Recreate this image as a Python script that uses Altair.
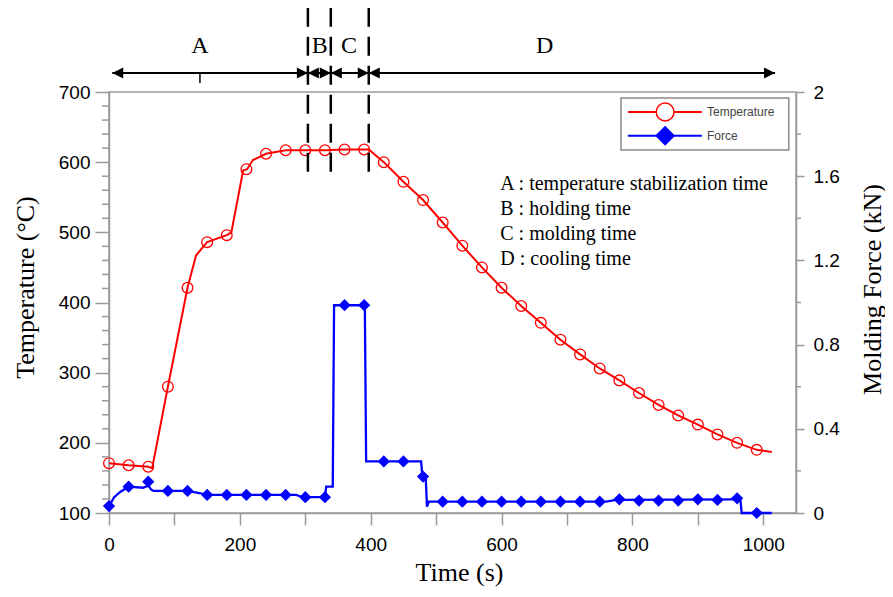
import altair as alt
import pandas as pd

# ---------------- data ----------------
# Temperature curve vertices (s, degC)
temp_line_t = [0, 30, 60, 66, 90, 120, 133, 150, 180, 187, 205, 211, 220, 240, 270, 300, 330, 360, 390, 397,
               420, 450, 480, 510, 540, 570, 600, 630, 660, 690, 720, 750, 780, 810, 840, 870, 900, 930, 960, 990, 1013]
temp_line_v = [171, 168, 166, 164, 280, 421, 467, 486, 496, 500, 588, 590, 603, 612, 617, 617, 617, 618, 618, 618,
               600, 572, 546, 514, 481, 450, 421, 395, 371, 347, 326, 306, 289, 271, 254, 239, 226, 212, 200, 190, 187]
# Temperature markers
temp_mark_t = [0, 30, 60, 90, 120, 150, 180, 210, 240, 270, 300, 330, 360, 390, 420, 450, 480, 510, 540, 570,
               600, 630, 660, 690, 720, 750, 780, 810, 840, 870, 900, 930, 960, 990]
temp_mark_v = [171, 168, 166, 280, 421, 486, 496, 590, 612, 617, 617, 617, 618, 618, 600, 572, 546, 514, 481, 450,
               421, 395, 371, 347, 326, 306, 289, 271, 254, 239, 226, 212, 200, 190]
# Force curve vertices (s, kN)
force_line_t = [0, 8, 17, 30, 52, 60, 65, 68, 120, 138, 150, 286, 296, 330, 332, 342, 344, 391, 393, 477,
                479, 484, 486, 489, 760, 775, 960, 965, 967, 1013]
force_line_v = [0.033, 0.075, 0.10, 0.125, 0.12, 0.13, 0.11, 0.105, 0.105, 0.095, 0.086, 0.086, 0.075, 0.075,
                0.125, 0.125, 0.987, 0.987, 0.245, 0.245, 0.173, 0.173, 0.03, 0.054, 0.054, 0.062, 0.065, 0.065,
                0.0, 0.0]
# Force markers
force_mark_t = [0, 30, 60, 90, 120, 150, 180, 210, 240, 270, 300, 330, 360, 390, 420, 450, 480, 510, 540, 570,
                600, 630, 660, 690, 720, 750, 780, 810, 840, 870, 900, 930, 960, 990]
force_mark_v = [0.033, 0.125, 0.149, 0.105, 0.105, 0.086, 0.086, 0.086, 0.086, 0.086, 0.075, 0.075, 0.987, 0.987,
                0.245, 0.245, 0.173, 0.054, 0.054, 0.054, 0.054, 0.054, 0.054, 0.054, 0.054, 0.054, 0.065, 0.059,
                0.059, 0.059, 0.065, 0.062, 0.07, 0.0]

# Axis tick values
x_ticks = [0, 100, 200, 300, 400, 500, 600, 700, 800, 900, 1000]
temp_major = [100, 200, 300, 400, 500, 600, 700]
temp_minor = [v for v in range(100, 701, 20) if v % 100 != 0]
force_major = [0, 0.4, 0.8, 1.2, 1.6, 2.0]
force_minor = [0.2, 0.6, 1.0, 1.4, 1.8]

# Phase annotation (time axis units)
phase_bounds = [304, 339, 397]
arrow_start = 5
arrow_end = 1018
phase_letters = ["A", "B", "C", "D"]
phase_letter_t = [139, 322, 367, 666]
annot_lines = ["A : temperature stabilization time", "B : holding time", "C : molding time", "D : cooling time"]
legend_labels = ["Temperature", "Force"]

# ---------------- scales / axes ----------------
W, H = 687, 421
x_scale = alt.Scale(domain=[0, 1050], nice=False, zero=False)
temp_scale = alt.Scale(domain=[100, 700], nice=False, zero=False)
force_scale = alt.Scale(domain=[0, 2], nice=False, zero=False)
AXIS_GRAY = "#9a9a9a"

x_axis = alt.Axis(
    values=x_ticks,
    format="d",
    labelExpr="datum.value % 200 === 0 ? datum.label : ''",
    tickSize=12, labelPadding=10, labelFlush=False, labelOverlap=False,
    title="Time (s)", titleX=350, titleY=67, titleAlign="center", titleBaseline="alphabetic",
)
temp_axis = alt.Axis(
    orient="left",
    values=temp_major,
    format="d",
    tickSize=14, labelPadding=5, labelFlush=False, labelOverlap=False,
    title="Temperature (°C)", titleAngle=270, titleX=-84, titleY=195,
    titleAlign="center", titleBaseline="middle",
)
force_axis = alt.Axis(
    orient="right",
    values=force_major,
    format="~g",
    tickSize=8, labelPadding=9, labelFlush=False, labelOverlap=False,
    title="Molding Force (kN)", titleAngle=270, titleX=76, titleY=197,
    titleAlign="center", titleBaseline="middle",
)


def X(field="t"):
    return alt.X(f"{field}:Q", scale=x_scale, axis=x_axis)


def YT(field, axis=None):
    return alt.Y(f"{field}:Q", scale=temp_scale, axis=axis)


def YF(field, axis=None):
    return alt.Y(f"{field}:Q", scale=force_scale, axis=axis)


# ---------------- data frames ----------------
temp_line_df = pd.DataFrame({"t": temp_line_t, "v": temp_line_v})
temp_mark_df = pd.DataFrame({"t": temp_mark_t, "v": temp_mark_v})
force_line_df = pd.DataFrame({"t": force_line_t, "v": force_line_v})
force_mark_df = pd.DataFrame({"t": force_mark_t, "v": force_mark_v})
temp_minor_df = pd.DataFrame({"v": temp_minor})
force_minor_df = pd.DataFrame({"v": force_minor})

dash_top, dash_bottom, arrow_level, tick_bottom, letter_level = 820, 579, 727, 713, 755.6
bounds_df = pd.DataFrame({"t": phase_bounds, "y1": [dash_top] * 3, "y2": [dash_bottom] * 3})
arrow_df = pd.DataFrame({"t": [arrow_start], "t2": [arrow_end], "y": [arrow_level]})
atick_df = pd.DataFrame({"t": [phase_letter_t[0]], "y1": [arrow_level], "y2": [tick_bottom]})
head_r_df = pd.DataFrame({"t": phase_bounds + [arrow_end], "y": [arrow_level] * 4})
head_l_df = pd.DataFrame({"t": [arrow_start] + phase_bounds, "y": [arrow_level] * 4})
letters_df = pd.DataFrame({"t": phase_letter_t, "y": [letter_level] * 4, "txt": phase_letters})
annot_df = pd.DataFrame({"t": [598], "y": [560.3], "txt": ["\n".join(annot_lines)]})

leg_box_df = pd.DataFrame({"t": [782.5], "t2": [1039], "y1": [691.4], "y2": [617.3]})
leg_rows_y = [671.5, 637.7]
leg_line_df = pd.DataFrame({"t": [793, 793], "t2": [906, 906], "y": leg_rows_y, "s": legend_labels})
leg_sym_df = pd.DataFrame({"t": [850, 850], "y": leg_rows_y, "s": legend_labels})
leg_txt_df = pd.DataFrame({"t": [914, 914], "y": leg_rows_y, "txt": legend_labels})

RED = "#ff0000"
BLUE = "#0000ff"

# ---------------- force layers (right axis) ----------------
force_line = alt.Chart(force_line_df).mark_line(color=BLUE, strokeWidth=2.3).encode(
    x=X(), y=YF("v", force_axis)
)
force_marks = alt.Chart(force_mark_df).mark_point(
    shape="diamond", filled=True, color=BLUE, size=150, opacity=1
).encode(x=X(), y=YF("v"))
force_minor_ticks = alt.Chart(force_minor_df).mark_rule(color=AXIS_GRAY, strokeWidth=1.5).encode(
    y=YF("v"), x=alt.value(W), x2=alt.value(W + 5)
)

# ---------------- temperature layers (left axis) ----------------
temp_line = alt.Chart(temp_line_df).mark_line(color=RED, strokeWidth=2).encode(
    x=X(), y=YT("v", temp_axis)
)
temp_marks = alt.Chart(temp_mark_df).mark_point(
    shape="circle", filled=False, color=RED, size=115, strokeWidth=1.3, opacity=1
).encode(x=X(), y=YT("v"))
temp_minor_ticks = alt.Chart(temp_minor_df).mark_rule(color=AXIS_GRAY, strokeWidth=1.5).encode(
    y=YT("v"), x=alt.value(-7), x2=alt.value(0)
)

dashes = alt.Chart(bounds_df).mark_rule(color="black", strokeWidth=2.5, strokeDash=[19, 10]).encode(
    x=X(), y=YT("y1"), y2="y2:Q"
)
arrow_line = alt.Chart(arrow_df).mark_rule(color="black", strokeWidth=2).encode(
    x=X(), x2="t2:Q", y=YT("y")
)
arrow_tick = alt.Chart(atick_df).mark_rule(color="black", strokeWidth=1.5).encode(
    x=X(), y=YT("y1"), y2="y2:Q"
)
heads_r = alt.Chart(head_r_df).mark_point(
    shape="M0,0L-1,-0.5L-1,0.5Z", filled=True, color="black", size=484, opacity=1
).encode(x=X(), y=YT("y"))
heads_l = alt.Chart(head_l_df).mark_point(
    shape="M0,0L1,-0.5L1,0.5Z", filled=True, color="black", size=484, opacity=1
).encode(x=X(), y=YT("y"))
letters = alt.Chart(letters_df).mark_text(
    font="Liberation Serif", fontSize=24, align="center", baseline="alphabetic", color="black"
).encode(x=X(), y=YT("y"), text="txt:N")
annot = alt.Chart(annot_df).mark_text(
    font="Liberation Serif", fontSize=20, align="left", baseline="alphabetic", color="black",
    lineBreak="\n", lineHeight=25
).encode(x=X(), y=YT("y"), text="txt:N")

leg_box = alt.Chart(leg_box_df).mark_rect(color="white", stroke="#8c8c8c", strokeWidth=1.5).encode(
    x=X(), x2="t2:Q", y=YT("y1"), y2="y2:Q"
)
leg_lines = alt.Chart(leg_line_df).mark_rule(strokeWidth=2).encode(
    x=X(), x2="t2:Q", y=YT("y"),
    color=alt.Color("s:N", scale=alt.Scale(domain=legend_labels, range=[RED, BLUE]), legend=None),
)
leg_circle = alt.Chart(leg_sym_df.iloc[[0]]).mark_point(
    shape="circle", filled=True, fill="white", stroke=RED, size=320, strokeWidth=1.5, opacity=1
).encode(x=X(), y=YT("y"))
leg_diamond = alt.Chart(leg_sym_df.iloc[[1]]).mark_point(
    shape="diamond", filled=True, color=BLUE, size=400, opacity=1
).encode(x=X(), y=YT("y"))
leg_text = alt.Chart(leg_txt_df).mark_text(
    font="Liberation Sans", fontSize=12, align="left", baseline="middle", color="#444444"
).encode(x=X(), y=YT("y"), text="txt:N")

chart = (
    alt.layer(
        force_line, force_marks, force_minor_ticks,
        temp_line, temp_marks, temp_minor_ticks, dashes, arrow_line, arrow_tick, heads_r, heads_l,
        letters, annot, leg_box, leg_lines, leg_circle, leg_diamond, leg_text,
    )
    .resolve_scale(y="independent")
    .properties(
        width=W, height=H,
        autosize=alt.AutoSizeParams(type="none"),
        padding={"left": 101, "top": 84, "right": 89, "bottom": 76},
    )
    .configure_axis(
        labelFont="Liberation Sans", labelFontSize=19, labelColor="#000000",
        domainColor=AXIS_GRAY, domainWidth=1.5, tickColor=AXIS_GRAY, tickWidth=1.5,
        grid=False,
        titleFont="Liberation Serif", titleFontSize=26, titleFontWeight="normal", titleColor="#000000",
    )
    .configure_view(stroke=AXIS_GRAY, strokeWidth=1.5)
)

chart.save("out.html", embed_options={"renderer": "svg", "actions": False})
